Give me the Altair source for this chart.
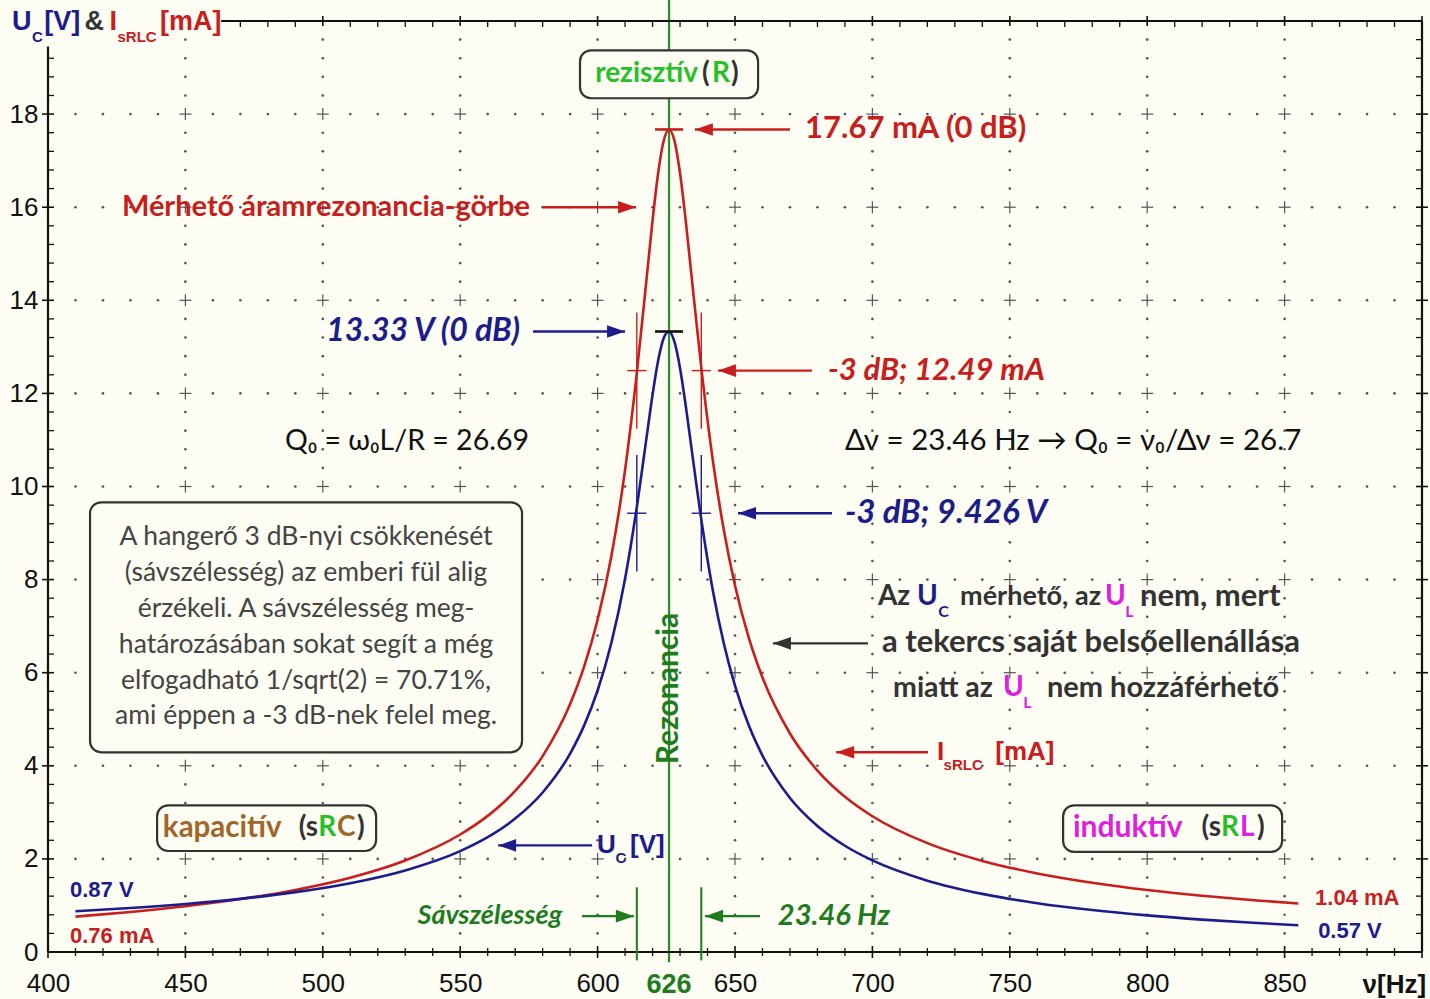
import altair as alt
import pandas as pd

# ---------------- data ----------------
FREQ = [410, 430, 450, 470, 490, 510, 530, 550, 560, 570, 580, 590, 595, 600, 605,
        610, 614, 618, 620, 622, 624, 626, 628, 630, 632, 634, 638, 642, 646, 650,
        655, 660, 670, 680, 690, 700, 720, 740, 760, 780, 800, 820, 840, 855]
I_MA = [0.759, 0.860, 0.983, 1.137, 1.334, 1.597, 1.967, 2.524, 2.924, 3.459, 4.208, 5.326, 6.113, 7.137, 8.502,
        10.357, 12.289, 14.567, 15.715, 16.719, 17.417, 17.67, 17.420, 16.730, 15.747, 14.626, 12.409, 10.531, 9.042, 7.875,
        6.753, 5.897, 4.694, 3.898, 3.334, 2.916, 2.338, 1.957, 1.688, 1.488, 1.332, 1.209, 1.108, 1.043]
U_V = [0.874, 0.945, 1.032, 1.142, 1.286, 1.479, 1.753, 2.167, 2.466, 2.866, 3.427, 4.263, 4.852, 5.617, 6.637,
       8.018, 9.452, 11.131, 11.970, 12.694, 13.181, 13.33, 13.100, 12.541, 11.767, 10.894, 9.185, 7.746, 6.610, 5.721,
       4.869, 4.220, 3.309, 2.707, 2.282, 1.967, 1.533, 1.249, 1.049, 0.901, 0.787, 0.696, 0.623, 0.576]

X_LABELS = [400, 450, 500, 550, 600, 650, 700, 750, 800, 850]
Y_LABELS = [0, 2, 4, 6, 8, 10, 12, 14, 16, 18]
X_DOMAIN = [400, 900]
Y_DOMAIN = [0, 20]

F0 = 626
F_LO, F_HI = 614.27, 637.73
I_PEAK, U_PEAK = 17.67, 13.33
I_3DB, U_3DB = 12.49, 9.426

# ---------------- styles ----------------
BG = "#fdfdf3"
RED = "#c81e1e"
BLUE = "#1c1c8c"
GREEN_LINE = "#2a8c2a"
GREEN_TXT = "#1e7b1e"
GREEN_BR = "#27c027"
BROWN = "#a0662a"
MAGENTA = "#e01ee0"
DARK = "#333333"
BLACK = "#111111"
GRIDC = "#555555"

NARROW = "Liberation Sans"
COMIC = "Lato"

XS = alt.Scale(domain=X_DOMAIN, nice=False, zero=False)
YS = alt.Scale(domain=Y_DOMAIN, nice=False, zero=False)
XAX = alt.Axis(values=X_LABELS, title=None, grid=False, domain=False, ticks=False,
               labelFont=NARROW, labelFontSize=26, labelColor=BLACK, labelPadding=18,
               labelFlush=False, labelOverlap=False)
YAX = alt.Axis(values=Y_LABELS, title=None, grid=False, domain=False, ticks=False,
               labelFont=NARROW, labelFontSize=26, labelColor=BLACK, labelPadding=10,
               labelOverlap=False)


def X(f):
    return alt.X(f, type="quantitative", scale=XS, axis=XAX)


def Y(f):
    return alt.Y(f, type="quantitative", scale=YS, axis=YAX)


def text_layer(rows, font, weight="bold", align="left", style="normal", angle=0):
    df = pd.DataFrame(rows, columns=["t", "x", "y", "c", "s"])
    mk = dict(font=font, fontWeight=weight, align=align, baseline="middle", fontStyle=style)
    if angle:
        mk["angle"] = angle
    return alt.Chart(df).mark_text(**mk).encode(
        x=X("x"), y=Y("y"), text="t:N",
        color=alt.Color("c:N", scale=None), size=alt.Size("s:Q", scale=None))


def tick_layer(xs, ys, orient, size, thickness, color, xoff=0, yoff=0):
    df = pd.DataFrame({"x": xs, "y": ys})
    return alt.Chart(df).mark_tick(orient=orient, size=size, thickness=thickness, color=color,
                                   xOffset=xoff, yOffset=yoff, opacity=1).encode(x=X("x"), y=Y("y"))


def hrules(rows, width):
    df = pd.DataFrame(rows, columns=["x", "x2", "y", "c"])
    return alt.Chart(df).mark_rule(strokeWidth=width).encode(
        x=X("x"), x2="x2", y=Y("y"), color=alt.Color("c:N", scale=None))


def vrules(rows, width):
    df = pd.DataFrame(rows, columns=["x", "y", "y2", "c"])
    return alt.Chart(df).mark_rule(strokeWidth=width).encode(
        x=X("x"), y=Y("y"), y2="y2", color=alt.Color("c:N", scale=None))


layers = []

# ---------------- grid (dots and crosses) ----------------
x_minor = [f for f in range(410, 900, 10) if f % 50 != 0]
x_grid_major = [f for f in range(450, 900, 50)]
y_minor = [round(0.4 * k, 1) for k in range(1, 50) if k % 5 != 0]
y_grid_major = [v for v in range(2, 20, 2)]

dots = [(x, y) for x in x_minor for y in y_grid_major] + [(x, y) for x in x_grid_major for y in y_minor]
dots_df = pd.DataFrame(dots, columns=["x", "y"])
layers.append(alt.Chart(dots_df).mark_circle(size=7, color=GRIDC, opacity=1).encode(x=X("x"), y=Y("y")))

cross_x = [x for x in x_grid_major for y in y_grid_major]
cross_y = [y for x in x_grid_major for y in y_grid_major]
layers.append(tick_layer(cross_x, cross_y, "vertical", 12, 1.2, GRIDC))
layers.append(tick_layer(cross_x, cross_y, "horizontal", 12, 1.2, GRIDC))

# resonance line (drawn below the boxes)
layers.append(vrules([(F0, -0.22, 20.45, GREEN_LINE)], 2.2))

# ---------------- boxes ----------------
BOXES = [
    (593.6, 658.4, 18.34, 19.37),
    (415.3, 572.5, 4.29, 9.66),
    (439.7, 519.4, 2.17, 3.15),
    (769.4, 849.1, 2.15, 3.15),
]
box_df = pd.DataFrame(BOXES, columns=["x", "x2", "y", "y2"])
layers.append(alt.Chart(box_df).mark_rect(cornerRadius=11, stroke=DARK, strokeWidth=2.2, fill=BG, opacity=1).encode(
    x=X("x"), x2="x2", y=Y("y"), y2="y2"))

# ---------------- frame and axis ticks ----------------
TOP_START = 463
LEFT_TOP = 19.45
layers.append(hrules([(400, 900, 0, BLACK), (TOP_START, 900, 20, BLACK)], 2.2))
layers.append(vrules([(400, 0, LEFT_TOP, BLACK), (900, 0, 20, BLACK)], 2.2))

bx_major = [f for f in range(400, 901, 50)]
top_minor = [f for f in x_minor if f > TOP_START]
top_major = [f for f in bx_major if f > TOP_START]
left_minor = [v for v in y_minor if v < LEFT_TOP]
layers.append(tick_layer(x_minor, [0] * len(x_minor), "vertical", 8, 1.3, BLACK))
layers.append(tick_layer(bx_major, [0] * len(bx_major), "vertical", 12, 1.6, BLACK))
layers.append(tick_layer(top_minor, [20] * len(top_minor), "vertical", 6, 1.3, BLACK, yoff=3))
layers.append(tick_layer(top_major, [20] * len(top_major), "vertical", 10, 1.6, BLACK))
ly_major = [v for v in range(2, 20, 2)]
layers.append(tick_layer([400] * len(left_minor), left_minor, "horizontal", 6, 1.3, BLACK, xoff=3))
layers.append(tick_layer([400] * len(ly_major), ly_major, "horizontal", 12, 1.6, BLACK))
layers.append(tick_layer([900] * len(y_minor), y_minor, "horizontal", 6, 1.3, BLACK, xoff=-3))
layers.append(tick_layer([900] * len(ly_major), ly_major, "horizontal", 12, 1.6, BLACK))

# ---------------- vertical marker lines ----------------
layers.append(vrules([(F_LO, -0.18, 1.39, GREEN_TXT), (F_HI, -0.18, 1.39, GREEN_TXT)], 2))
layers.append(vrules([(F_LO, I_3DB - 1.25, I_3DB + 1.25, RED), (F_HI, I_3DB - 1.25, I_3DB + 1.25, RED),
                      (F_LO, U_3DB - 1.25, U_3DB + 1.25, BLUE), (F_HI, U_3DB - 1.25, U_3DB + 1.25, BLUE)], 1.4))

# ---------------- curves ----------------
curve_df = pd.DataFrame({"f": FREQ, "i": I_MA, "u": U_V})
layers.append(alt.Chart(curve_df).mark_line(color=RED, strokeWidth=2.6, interpolate="monotone").encode(x=X("f"), y=Y("i")))
layers.append(alt.Chart(curve_df).mark_line(color=BLUE, strokeWidth=2.6, interpolate="monotone").encode(x=X("f"), y=Y("u")))

# ---------------- peak / -3 dB markers ----------------
layers.append(hrules([(F0 - 5.1, F0 + 5.1, I_PEAK, RED), (F0 - 5.1, F0 + 5.1, U_PEAK, BLACK)], 2.6))
layers.append(hrules([(F_LO - 3.5, F_LO + 3.5, I_3DB, RED), (F_HI - 3.5, F_HI + 3.5, I_3DB, RED),
                      (F_LO - 3.5, F_LO + 3.5, U_3DB, BLUE), (F_HI - 3.5, F_HI + 3.5, U_3DB, BLUE)], 1.4))

# ---------------- arrows ----------------
ARROWS = [  # tail, tip, y, colour
    (670.0, 635.4, I_PEAK, RED),
    (580.1, 614.0, 16.0, RED),
    (576.5, 610.0, U_PEAK, BLUE),
    (678.0, 643.8, I_3DB, RED),
    (685.3, 651.1, U_3DB, BLUE),
    (698.4, 663.8, 6.63, DARK),
    (720.2, 686.8, 4.29, RED),
    (598.0, 563.8, 2.29, BLUE),
    (594.3, 613.2, 0.77, GREEN_TXT),
    (659.1, 639.1, 0.77, GREEN_TXT),
]
arr_df = pd.DataFrame(ARROWS, columns=["tail", "tip", "y", "c"])
layers.append(alt.Chart(arr_df).mark_rule(strokeWidth=2.4).encode(
    x=X("tail"), x2="tip", y=Y("y"), color=alt.Color("c:N", scale=None)))
left_df = arr_df[arr_df["tip"] < arr_df["tail"]]
right_df = arr_df[arr_df["tip"] > arr_df["tail"]]
layers.append(alt.Chart(left_df).mark_point(shape="M0,0 L2,-0.7 L2,0.7 Z", size=324, filled=True, opacity=1, strokeWidth=0).encode(
    x=X("tip"), y=Y("y"), color=alt.Color("c:N", scale=None)))
layers.append(alt.Chart(right_df).mark_point(shape="M0,0 L-2,-0.7 L-2,0.7 Z", size=324, filled=True, opacity=1, strokeWidth=0).encode(
    x=X("tip"), y=Y("y"), color=alt.Color("c:N", scale=None)))

# ---------------- texts ----------------
NARROW_BOLD = [
    ("U", 386.9, 19.98, BLUE, 27), ("C", 394.2, 19.66, BLUE, 15), ("[V]", 398.6, 19.98, BLUE, 27),
    ("&", 413.3, 19.98, DARK, 27),
    ("I", 422.4, 19.98, RED, 27), ("sRLC", 425.3, 19.66, RED, 15), ("[mA]", 440.8, 19.98, RED, 27),
    ("U", 599.8, 2.29, BLUE, 26), ("C", 606.5, 2.02, BLUE, 15), ("[V]", 611.8, 2.29, BLUE, 26),
    ("I", 723.5, 4.29, RED, 26), ("sRLC", 725.9, 4.02, RED, 15), ("[mA]", 744.7, 4.29, RED, 26),
    ("0.87 V", 408.0, 1.33, BLUE, 22), ("0.76 mA", 408.0, 0.34, RED, 22),
    ("1.04 mA", 861.1, 1.15, RED, 22), ("0.57 V", 862.2, 0.45, BLUE, 22),
]
layers.append(text_layer(NARROW_BOLD, NARROW))
layers.append(text_layer([("626", F0, -0.7, GREEN_TXT, 27)], NARROW, align="center"))
layers.append(text_layer([("ν[Hz]", 901.5, -0.7, BLACK, 26)], NARROW, align="right"))

COMIC_BOLD_LEFT = [
    ("17.67 mA (0 dB)", 675.5, I_PEAK, RED, 31),
    ("Az", 702.0, 7.62, DARK, 28), ("U", 716.2, 7.62, BLUE, 28), ("C", 724.0, 7.30, BLUE, 16),
    ("mérhető, az", 731.9, 7.62, DARK, 27), ("U", 784.6, 7.62, MAGENTA, 28), ("L", 792.0, 7.30, MAGENTA, 16),
    ("nem, mert", 797.4, 7.62, DARK, 31),
    ("a tekercs saját belsőellenállása", 703.5, 6.63, DARK, 31),
    ("miatt az", 707.5, 5.67, DARK, 28.5), ("U", 747.5, 5.67, MAGENTA, 28), ("L", 754.9, 5.34, MAGENTA, 16),
    ("nem hozzáférhető", 763.5, 5.67, DARK, 29),
    ("rezisztív", 599.1, 18.86, GREEN_BR, 28), ("(", 638.0, 18.86, DARK, 28), ("R", 641.6, 18.86, GREEN_BR, 28),
    (")", 648.5, 18.86, DARK, 28),
    ("kapacitív", 441.8, 2.66, BROWN, 29.5),
    ("R", 498.3, 2.66, GREEN_BR, 28), ("C", 505.2, 2.66, BROWN, 28), (")", 512.4, 2.66, DARK, 28),
    ("induktív", 773.0, 2.66, MAGENTA, 30),
    ("R", 826.9, 2.66, GREEN_BR, 28), ("L", 833.8, 2.66, MAGENTA, 28), (")", 840.0, 2.66, DARK, 28),
]
layers.append(text_layer(COMIC_BOLD_LEFT, COMIC))
COMIC_BOLD_RIGHT = [
    ("Mérhető áramrezonancia-görbe", 575.4, 16.0, RED, 29),
    ("(s", 498.3, 2.66, DARK, 28),
    ("(s", 826.9, 2.66, DARK, 28),
]
layers.append(text_layer(COMIC_BOLD_RIGHT, COMIC, align="right"))
layers.append(text_layer([("13.33 V (0 dB)", 571.8, U_PEAK, BLUE, 32)], COMIC, align="right", style="italic"))
layers.append(text_layer([("-3 dB; 12.49 mA", 683.8, I_3DB, RED, 31),
                          ("-3 dB; 9.426 V", 690.0, U_3DB, BLUE, 33),
                          ("23.46 Hz", 665.6, 0.77, GREEN_TXT, 29)], COMIC, style="italic"))
layers.append(text_layer([("Sávszélesség", 560.8, 0.77, GREEN_TXT, 27)], COMIC, style="italic", align="center"))
layers.append(text_layer([("Rezonancia", F0, 5.66, GREEN_TXT, 30)], COMIC, align="center", angle=270))

COMIC_NORMAL = [
    ("Q₀ = ω₀L/R = 26.69", 486.2, 10.97, BLACK, 28.5),
    ("Δν = 23.46 Hz → Q₀ = ν₀/Δν = 26.7", 690.0, 10.97, BLACK, 29.5),
]
layers.append(text_layer(COMIC_NORMAL, COMIC, weight="normal"))
BOX_LINES = [
    ("A hangerő 3 dB-nyi csökkenését", 493.9, 8.91, "#444444", 26.5),
    ("(sávszélesség) az emberi fül alig", 493.9, 8.14, "#444444", 26.5),
    ("érzékeli. A sávszélesség meg-", 493.9, 7.36, "#444444", 26.5),
    ("határozásában sokat segít a még", 493.9, 6.59, "#444444", 26.5),
    ("elfogadható 1/sqrt(2) = 70.71%,", 493.9, 5.82, "#444444", 26.5),
    ("ami éppen a -3 dB-nek felel meg.", 493.9, 5.06, "#444444", 26.5),
]
layers.append(text_layer(BOX_LINES, COMIC, weight="normal", align="center"))

chart = alt.layer(*layers).properties(
    width=1374, height=931, background=BG,
    padding={"left": 48, "top": 21, "right": 8, "bottom": 48},
    autosize=alt.AutoSizeParams(type="none"),
).configure_view(stroke=None)

chart.save("out.html", embed_options={"renderer": "svg", "actions": False})
